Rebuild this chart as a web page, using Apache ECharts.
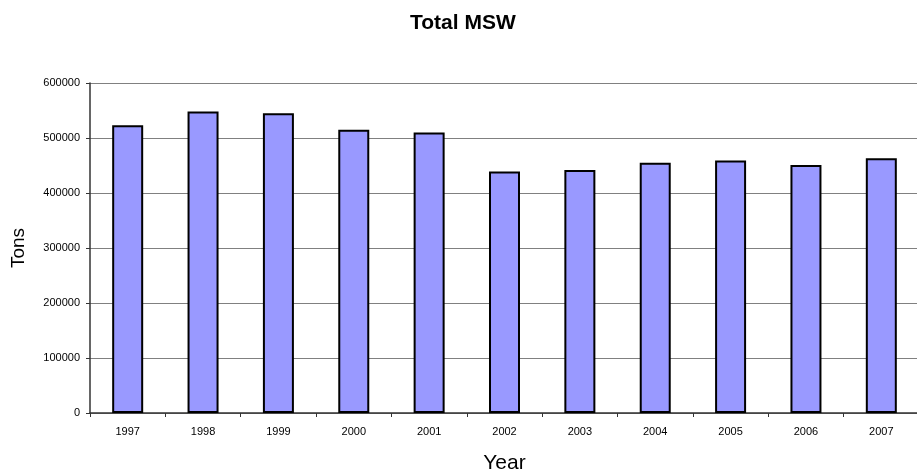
<!DOCTYPE html>
<html>
<head>
<meta charset="utf-8">
<script src="https://cdn.jsdelivr.net/npm/echarts@6/dist/echarts.min.js"></script>
<style>html,body{margin:0;padding:0;background:#fff;}#c{width:917px;height:473px;}</style>
</head>
<body>
<div id="c"></div>
<script>
const years = ['1997','1998','1999','2000','2001','2002','2003','2004','2005','2006','2007'];
const tons = [523000, 548000, 545000, 515000, 510000, 439000, 442000, 455000, 459000, 451000, 463000];
const yTicks = [0, 100000, 200000, 300000, 400000, 500000, 600000];

const FONT = 'Liberation Sans, Arial, sans-serif';
const chart = echarts.init(document.getElementById('c'), null, {renderer: 'canvas'});
chart.setOption({
  animation: false,
  backgroundColor: '#ffffff',
  title: {
    text: 'Total MSW',
    left: 405,
    top: 8,
    textStyle: {fontFamily: FONT, fontSize: 21, fontWeight: 'bold', color: '#000'}
  },
  grid: {left: 90, right: -2, top: 83, bottom: 60, containLabel: false, outerBoundsMode: 'none'},
  xAxis: {
    type: 'category',
    data: years,
    name: 'Year',
    nameLocation: 'middle',
    nameGap: 40,
    nameTextStyle: {fontFamily: FONT, fontSize: 21, color: '#000'},
    axisLine: {lineStyle: {color: '#333', width: 1.5}},
    axisTick: {show: true, alignWithLabel: false, length: 4, lineStyle: {color: '#333'}},
    axisLabel: {fontFamily: FONT, fontSize: 11, color: '#000', margin: 13}
  },
  yAxis: {
    type: 'value',
    min: yTicks[0],
    max: yTicks[yTicks.length - 1],
    interval: yTicks[1] - yTicks[0],
    name: 'Tons',
    nameLocation: 'middle',
    nameRotate: 90,
    nameGap: 62,
    nameTextStyle: {fontFamily: FONT, fontSize: 19, color: '#000'},
    axisLine: {show: true, lineStyle: {color: '#333', width: 1.5}},
    axisTick: {show: true, length: 4, lineStyle: {color: '#333'}},
    axisLabel: {fontFamily: FONT, fontSize: 11, color: '#000', margin: 10, formatter: v => String(v)},
    splitLine: {show: true, lineStyle: {color: '#808080', width: 1}}
  },
  series: [{
    type: 'bar',
    data: tons,
    barWidth: 31,
    itemStyle: {color: '#9999ff', borderColor: '#000', borderWidth: 2}
  }]
});
</script>
</body>
</html>
